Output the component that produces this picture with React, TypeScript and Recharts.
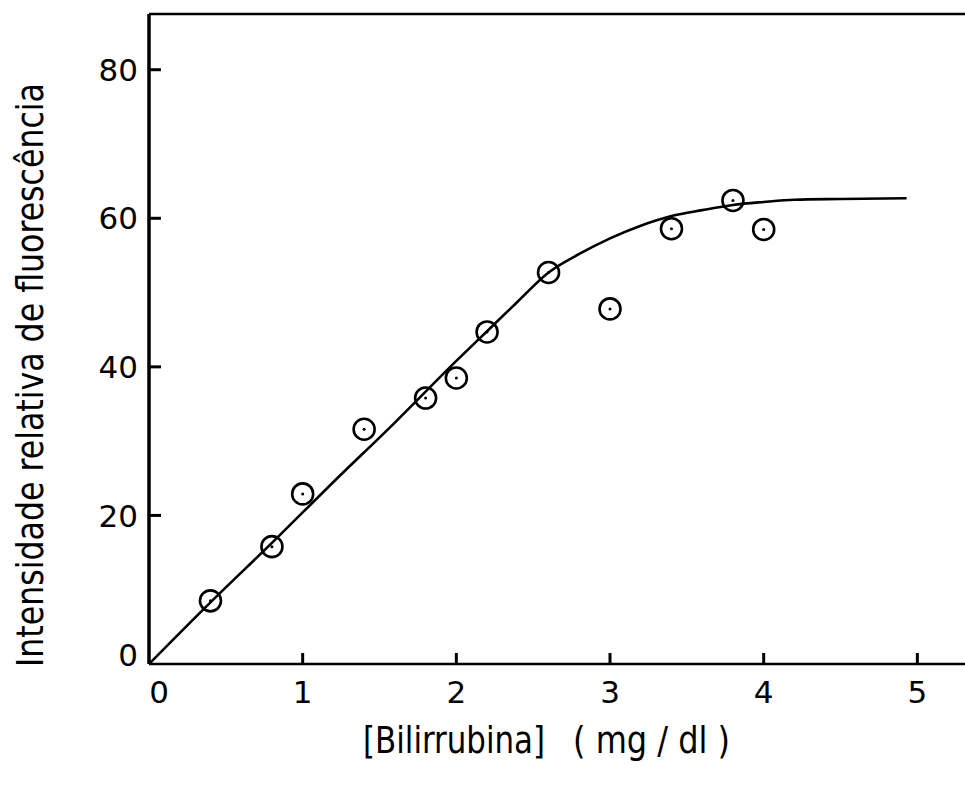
import { ComposedChart, Line, Scatter, XAxis, YAxis, ReferenceLine } from "recharts";

// measured points (bilirubin mg/dl vs relative fluorescence)
const bilirrubina = [0.4, 0.8, 1.0, 1.4, 1.8, 2.0, 2.2, 2.6, 3.0, 3.4, 3.8, 4.0];
const intensidade = [8.5, 15.8, 22.9, 31.6, 35.8, 38.5, 44.7, 52.7, 47.8, 58.6, 62.4, 58.5];

// fitted curve
const curvaX = [0, 0.4, 0.8, 1.2, 1.6, 2.0, 2.2, 2.4, 2.6, 2.8, 3.0, 3.2, 3.4, 3.6, 3.8, 4.0, 4.2, 4.5, 4.93];
const curvaY = [0, 8.3, 16.3, 24.5, 32.5, 40.8, 44.8, 48.8, 52.7, 55.2, 57.3, 59.0, 60.3, 61.1, 61.8, 62.2, 62.5, 62.6, 62.7];

const xTicks = [0, 1, 2, 3, 4, 5];
const yTicks = [0, 20, 40, 60, 80];
const yTop = 87.5;

const pontos = bilirrubina.map((x, i) => ({ x, y: intensidade[i] }));
const curva = curvaX.map((x, i) => ({ x, y: curvaY[i] }));

const W = 965;
const H = 789;
const Y_AXIS_W = 149;
const X_AXIS_H = 125;
const AXIS_LEFT = Y_AXIS_W;
const AXIS_BOTTOM = H - X_AXIS_H;

const font = "'DejaVu Sans', sans-serif";
const labelFont = "'DejaVu Sans Condensed', 'DejaVu Sans', sans-serif";

// inward tick marks, labels outside
function XTick(props: any) {
  const { x, payload } = props;
  const dx = payload.value === 0 ? 10 : 0;
  return (
    <g>
      {payload.value !== 0 && (
        <path d={`M${x},${AXIS_BOTTOM}V${AXIS_BOTTOM - 11}`} stroke="#000" strokeWidth={3} />
      )}
      <text x={x + dx} y={AXIS_BOTTOM + 28} dy="0.36em" textAnchor="middle" fontFamily={font} fontSize={31} fill="#000">
        {payload.value}
      </text>
    </g>
  );
}

function YTick(props: any) {
  const { y, payload } = props;
  const dy = payload.value === 0 ? -9 : 0;
  return (
    <g>
      {payload.value !== 0 && (
        <path d={`M${AXIS_LEFT},${y}H${AXIS_LEFT + 12}`} stroke="#000" strokeWidth={3} />
      )}
      <text x={AXIS_LEFT - 11} y={y + dy} dy="0.36em" textAnchor="end" fontFamily={font} fontSize={31} fill="#000">
        {payload.value}
      </text>
    </g>
  );
}

function Ponto(props: any) {
  const { cx, cy } = props;
  return (
    <g>
      <circle cx={cx} cy={cy} r={10.5} fill="none" stroke="#000" strokeWidth={2.6} />
      <circle cx={cx} cy={cy} r={1.5} fill="#000" />
    </g>
  );
}

export default function App() {
  return (
    <div style={{ position: "absolute", left: 0, top: 0, background: "#fff" }}>
      <ComposedChart width={W} height={H} margin={{ top: 14, right: 0, bottom: 0, left: 0 }}>
        <XAxis
          dataKey="x"
          type="number"
          domain={[0, 5.31]}
          ticks={xTicks}
          allowDataOverflow
          height={X_AXIS_H}
          tickLine={false}
          tick={<XTick />}
          axisLine={{ stroke: "#000", strokeWidth: 2.5 }}
        />
        <YAxis
          type="number"
          domain={[0, yTop]}
          ticks={yTicks}
          allowDataOverflow
          width={Y_AXIS_W}
          tickLine={false}
          tick={<YTick />}
          axisLine={{ stroke: "#000", strokeWidth: 3.5 }}
        />
        <ReferenceLine y={yTop} stroke="#000" strokeWidth={2.5} ifOverflow="visible" />
        <Line
          data={curva}
          dataKey="y"
          type="monotone"
          stroke="#000"
          strokeWidth={2.6}
          dot={false}
          activeDot={false}
          isAnimationActive={false}
        />
        <Scatter data={pontos} dataKey="y" shape={<Ponto />} isAnimationActive={false} />
        <text
          x={30}
          y={375}
          transform="rotate(-90 30 375)"
          textAnchor="middle"
          dominantBaseline="central"
          fontFamily={labelFont}
          fontSize={38}
          textLength={584}
          lengthAdjust="spacingAndGlyphs"
          fill="#000"
        >
          Intensidade relativa de fluorescência
        </text>
        <text
          x={363}
          y={753}
          textAnchor="start"
          fontFamily={labelFont}
          fontSize={38}
          textLength={182}
          lengthAdjust="spacingAndGlyphs"
          fill="#000"
        >
          [Bilirrubina]
        </text>
        <text
          x={573}
          y={753}
          textAnchor="start"
          fontFamily={labelFont}
          fontSize={38}
          textLength={157}
          lengthAdjust="spacingAndGlyphs"
          fill="#000"
        >
          ( mg / dl )
        </text>
      </ComposedChart>
    </div>
  );
}
